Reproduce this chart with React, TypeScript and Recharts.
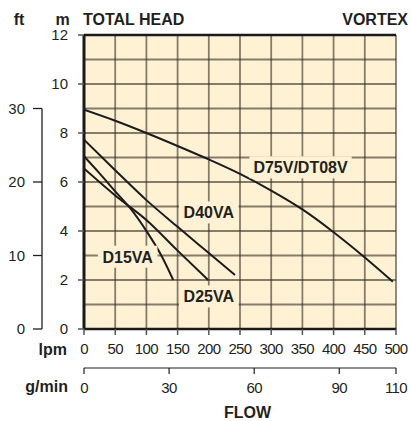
import React from 'react';
import { LineChart, Line, XAxis, YAxis, ReferenceLine, ReferenceArea, ReferenceDot } from 'recharts';

const FONT = '"Liberation Sans", Arial, Helvetica, sans-serif';
const INK = '#231f20';
const BG = '#FFF2D4';
const GRID = '#3a3226';

// axes
const lpmTicks = [0, 50, 100, 150, 200, 250, 300, 350, 400, 450, 500];
const gpmTicks = [0, 30, 60, 90, 110];
const mTicks = [0, 2, 4, 6, 8, 10, 12];
const ftTicks = [0, 10, 20, 30];
const gridHead = [1, 2, 3, 4, 5, 6, 7, 8, 9, 10, 11];
const gridFlow = [50, 100, 150, 200, 250, 300, 350, 400, 450, 500];

// curves (flow lpm, head m)
const d75Flow = [0, 50, 100, 150, 200, 250, 300, 350, 400, 450, 495];
const d75Head = [8.95, 8.5, 8.0, 7.47, 6.92, 6.33, 5.65, 4.88, 3.95, 2.92, 1.93];
const d40Flow = [0, 50, 100, 150, 200, 242];
const d40Head = [7.73, 6.48, 5.26, 4.17, 3.1, 2.2];
const d25Flow = [0, 50, 100, 150, 199];
const d25Head = [6.55, 5.45, 4.45, 3.2, 2.0];
const d15Flow = [0, 25, 50, 75, 100, 125, 143];
const d15Head = [7.05, 6.35, 5.62, 4.9, 4.0, 2.95, 2.0];

const curveNames = ['D75V/DT08V', 'D40VA', 'D25VA', 'D15VA'];
const curveFlows = [d75Flow, d40Flow, d25Flow, d15Flow];
const curveHeads = [d75Head, d40Head, d25Head, d15Head];

// curve label anchors (lpm, m)
const labelText = ['D75V/DT08V', 'D40VA', 'D15VA', 'D25VA'];
const labelFlow = [347, 200, 70, 200];
const labelHead = [6.6, 4.76, 2.95, 1.33];

const toPoints = (flow: number[], head: number[]) => flow.map((q, i) => ({ q, h: head[i] }));

// axis ids (ordered so the first sorts nearest the plot)
const X_LPM = 'q1';
const X_GPM = 'q2';
const Y_M = 'h1';
const Y_FT = 'h2';

const W: Record<string, number> = { D: 0.722, V: 0.667, A: 0.722, T: 0.611, '/': 0.278 };
const textWidth = (s: string, size: number) =>
  s.split('').reduce((acc, c) => acc + (W[c] ?? 0.556), 0) * size;

const CurveLabel = (props: any) => {
  const { cx, cy, text } = props;
  const size = 16;
  const w = textWidth(text, size);
  return (
    <g>
      <rect x={cx - w / 2 - 4} y={cy - 11} width={w + 8} height={22} fill={BG} />
      <text x={cx} y={cy + 5.8} textAnchor="middle" fontFamily={FONT} fontWeight="bold" fontSize={size} fill={INK}>
        {text}
      </text>
    </g>
  );
};

const PLOT_TOP = 35;
const PLOT_H = 294;
const FT_MAX = 40;

const FtTick = (props: any) => {
  const { x, y, payload } = props;
  const axisX = x + 17;
  return (
    <g>
      {payload.value === ftTicks[ftTicks.length - 1] && (
        <line x1={axisX} x2={axisX} y1={y} y2={PLOT_TOP + PLOT_H} stroke={INK} strokeWidth={1.3} />
      )}
      <text x={x} y={y + 5.3} textAnchor="end" fontFamily={FONT} fontSize={15} fill={INK}>
        {payload.value}
      </text>
    </g>
  );
};

const BottomTick = (props: any) => {
  const { x, y, payload } = props;
  return (
    <text x={x} y={y + 11} textAnchor="middle" fontFamily={FONT} fontSize={15} fill={INK} letterSpacing={-0.6}>
      {payload.value}
    </text>
  );
};

const MTick = (props: any) => {
  const { x, y, payload } = props;
  return (
    <text x={x} y={y + 5.3} textAnchor="end" fontFamily={FONT} fontSize={15} fill={INK}>
      {payload.value}
    </text>
  );
};

export default function App() {
  return (
    <div style={{ position: 'absolute', left: 0, top: 0, width: 410, height: 421, background: '#fff' }}>
      <LineChart width={410} height={421} margin={{ top: PLOT_TOP, right: 14, bottom: 0, left: 0 }}>
        <XAxis
          xAxisId={X_LPM}
          dataKey="q"
          type="number"
          domain={[0, 500]}
          ticks={lpmTicks}
          interval={0}
          allowDataOverflow
          height={39}
          tickSize={6}
          tickMargin={8}
          tick={<BottomTick />}
          axisLine={{ stroke: '#1a1a1a', strokeWidth: 2.5 }}
          tickLine={{ stroke: '#555', strokeWidth: 1.5 }}
        />
        <XAxis
          xAxisId={X_GPM}
          dataKey="g"
          type="number"
          domain={[0, 110]}
          ticks={gpmTicks}
          interval={0}
          allowDataOverflow
          height={53}
          tickSize={6}
          tickMargin={8}
          tick={<BottomTick />}
          axisLine={{ stroke: INK, strokeWidth: 1.2 }}
          tickLine={{ stroke: INK, strokeWidth: 1.2 }}
        />
        <YAxis
          yAxisId={Y_M}
          type="number"
          domain={[0, 12]}
          ticks={mTicks}
          interval={0}
          allowDataOverflow
          width={42}
          tickSize={6}
          tickMargin={10}
          tick={<MTick />}
          axisLine={{ stroke: '#1a1a1a', strokeWidth: 3 }}
          tickLine={{ stroke: '#555', strokeWidth: 1.5 }}
        />
        <YAxis
          yAxisId={Y_FT}
          type="number"
          domain={[0, FT_MAX]}
          ticks={ftTicks}
          interval={0}
          allowDataOverflow
          width={42}
          tickSize={9}
          tickMargin={8}
          tick={<FtTick />}
          axisLine={false}
          tickLine={{ stroke: INK, strokeWidth: 1.3 }}
        />
        <ReferenceArea xAxisId={X_LPM} yAxisId={Y_M} x1={0} x2={500} y1={0} y2={12} fill={BG} fillOpacity={1} stroke="none" />
        {gridHead.map((h) => (
          <ReferenceLine key={'h' + h} xAxisId={X_LPM} yAxisId={Y_M} y={h} stroke={GRID} strokeOpacity={0.62} strokeWidth={1.8} />
        ))}
        {gridFlow.map((q) => (
          <ReferenceLine key={'v' + q} xAxisId={X_LPM} yAxisId={Y_M} x={q} stroke={GRID} strokeOpacity={0.62} strokeWidth={1.8} />
        ))}
        <ReferenceLine xAxisId={X_LPM} yAxisId={Y_M} y={12} stroke="#1a1a1a" strokeWidth={2.5} />
        {curveNames.map((n, i) => (
          <Line
            key={n}
            xAxisId={X_LPM}
            yAxisId={Y_M}
            data={toPoints(curveFlows[i], curveHeads[i])}
            dataKey="h"
            type="monotone"
            stroke="#1c1c1c"
            strokeWidth={2}
            dot={false}
            activeDot={false}
            isAnimationActive={false}
          />
        ))}
        {labelText.map((t, i) => (
          <ReferenceDot
            key={t}
            xAxisId={X_LPM}
            yAxisId={Y_M}
            x={labelFlow[i]}
            y={labelHead[i]}
            r={1}
            shape={(p: any) => <CurveLabel {...p} text={t} />}
          />
        ))}
      </LineChart>
      <svg width={410} height={421} style={{ position: 'absolute', left: 0, top: 0, pointerEvents: 'none' }}>
        <g fontFamily={FONT} fontWeight="bold" fontSize={16} fill={INK}>
          <text x={19} y={25} textAnchor="middle">ft</text>
          <text x={62.5} y={25} textAnchor="middle">m</text>
          <text x={83} y={25}>TOTAL HEAD</text>
          <text x={408} y={25} textAnchor="end">VORTEX</text>
          <text x={67} y={355} textAnchor="end">lpm</text>
          <text x={68} y={392} textAnchor="end">g/min</text>
          <text x={247.5} y={418} textAnchor="middle">FLOW</text>
        </g>
      </svg>
    </div>
  );
}
